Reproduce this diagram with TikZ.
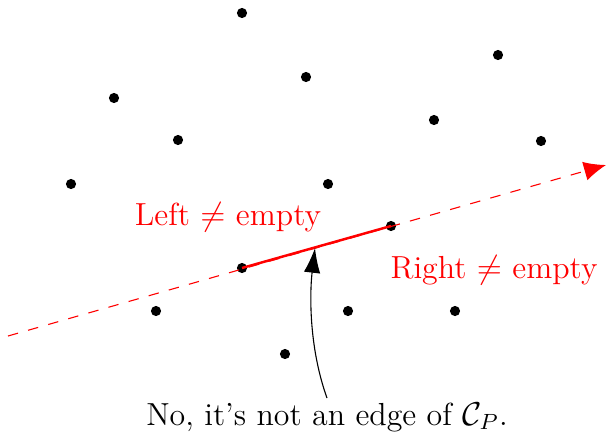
\documentclass[tikz,border=0pt]{standalone}
\usetikzlibrary{arrows.meta}
\begin{document}
\begin{tikzpicture}[x=0.3636pt,y=-0.3636pt,
  pt/.style={circle,fill=black,inner sep=0pt,minimum size=3.7pt},
  lab/.style={text=red,font=\fontsize{11.6}{13.5}\selectfont},
  dashline/.style={red,dash pattern=on 3.8pt off 3.8pt,line width=0.4pt,-{Latex[length=8pt,width=7pt]}},
  hull/.style={red,line width=0.9pt},
  pointer/.style={black,line width=0.4pt,-{Latex[length=9pt,width=6pt]}}]
\useasboundingbox (0,0) rectangle (607,436);
\node[pt] (p1) at (242,13) {};
\node[pt] (p2) at (498,55) {};
\node[pt] (p3) at (114,98) {};
\node[pt] (p4) at (306,77) {};
\node[pt] (p5) at (178,140) {};
\node[pt] (p6) at (434,120) {};
\node[pt] (p7) at (541,141) {};
\node[pt] (p8) at (71,184) {};
\node[pt] (p9) at (328,184) {};
\node[pt] (q) at (391,226) {};
\node[pt] (p) at (242,268) {};
\node[pt] (p12) at (156,311) {};
\node[pt] (p13) at (348,311) {};
\node[pt] (p14) at (455,311) {};
\node[pt] (p15) at (285,354) {};
\coordinate (s) at (8,336);
\coordinate (e) at (606,165);
\draw[dashline] (s) -- (e);
\draw[hull] (p.center) -- (q.center);
\node[lab] (L) at (228,217) {Left $\neq$ empty};
\node[lab] (R) at (494,270) {Right $\neq$ empty};
\node[font=\fontsize{11.6}{13.5}\selectfont,anchor=base] (T) at (327,425) {No, it's not an edge of $\mathcal{C}_P$.};
\coordinate (hit) at (315,248);
\draw[pointer] (327,398) .. controls (308,345) and (310,290) .. (hit);
\end{tikzpicture}
\end{document}
